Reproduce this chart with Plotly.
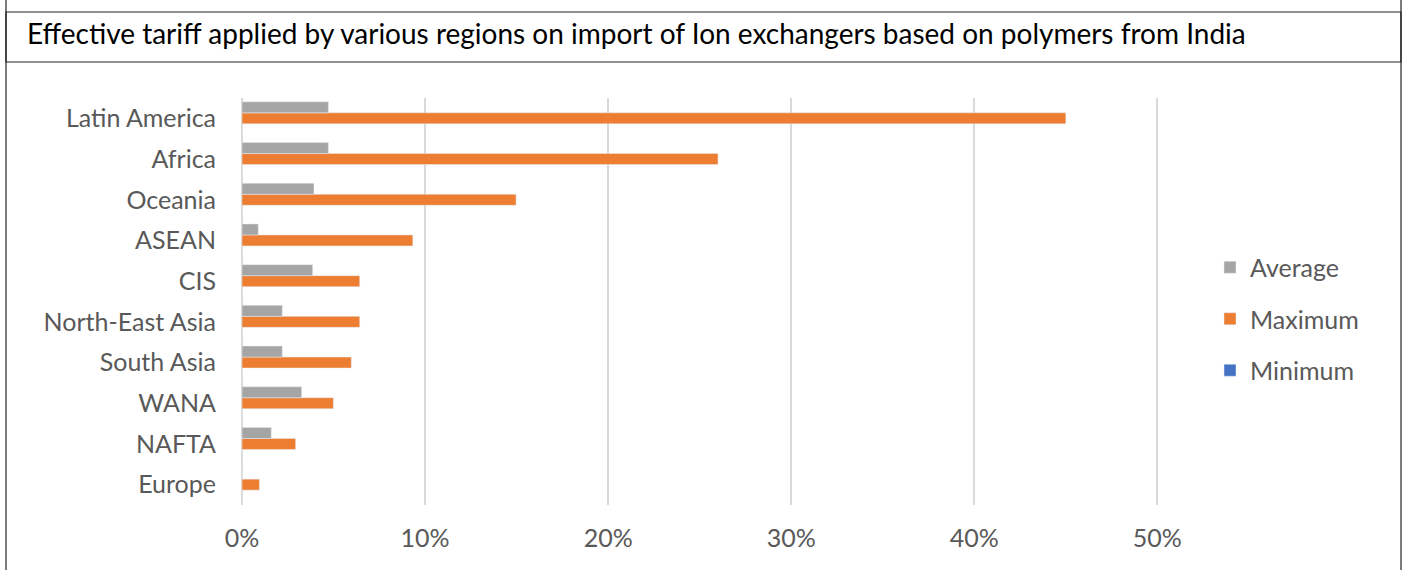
import plotly.graph_objects as go

categories = ["Europe", "NAFTA", "WANA", "South Asia", "North-East Asia",
              "CIS", "ASEAN", "Oceania", "Africa", "Latin America"]
average = [0.0, 0.016, 0.0326, 0.022, 0.022, 0.0386, 0.0089, 0.0393, 0.0472, 0.0472]
maximum = [0.0095, 0.0293, 0.0499, 0.0597, 0.0643, 0.0643, 0.0933, 0.1497, 0.26, 0.45]
minimum = [0, 0, 0, 0, 0, 0, 0, 0, 0, 0]
x_ticks = [0, 0.1, 0.2, 0.3, 0.4, 0.5]
x_tick_labels = ["0%", "10%", "20%", "30%", "40%", "50%"]
title_text = "Effective tariff applied by various regions on import of Ion exchangers based on polymers from India"

FONT = "Lato"
W, H = 1407, 570
L, R, T, B = 242, 1194, 98, 505
PW, PH = R - L, B - T


def px(x):
    return (x - L) / PW


def py(y):
    return (B - y) / PH


fig = go.Figure()
fig.add_trace(go.Bar(y=categories, x=minimum, name="Minimum", orientation="h",
                     marker_color="#4472C4", legendgroup="c", legendrank=3))
fig.add_trace(go.Bar(y=categories, x=maximum, name="Maximum", orientation="h",
                     marker_color="#ED7D31", legendgroup="b", legendrank=2))
fig.add_trace(go.Bar(y=categories, x=average, name="Average", orientation="h",
                     marker_color="#A5A5A5", legendgroup="a", legendrank=1))

shapes = [
    dict(type="rect", xref="paper", yref="paper", x0=px(6), x1=px(1401), y0=py(62), y1=py(12),
         line=dict(color="#222222", width=1.2)),
    dict(type="line", xref="paper", yref="paper", x0=px(6), x1=px(6), y0=py(0), y1=py(570),
         line=dict(color="#222222", width=1.2)),
    dict(type="line", xref="paper", yref="paper", x0=px(1401), x1=px(1401), y0=py(0), y1=py(570),
         line=dict(color="#222222", width=1.2)),
]

fig.update_layout(
    width=W, height=H,
    margin=dict(l=L, r=W - R, t=T, b=H - B),
    paper_bgcolor="white", plot_bgcolor="white",
    barmode="group", bargap=0.19, bargroupgap=0,
    font=dict(family=FONT, color="#595959", size=25),
    shapes=shapes,
    annotations=[dict(text=title_text, xref="paper", yref="paper", x=px(25), y=py(33),
                      xanchor="left", yanchor="middle", showarrow=False,
                      font=dict(family=FONT, size=28, color="#000000"))],
    legend=dict(x=px(1210), y=py(319), xanchor="left", yanchor="middle",
                traceorder="grouped", tracegroupgap=16,
                font=dict(family=FONT, size=25, color="#595959"),
                bgcolor="rgba(0,0,0,0)"),
    xaxis=dict(range=[0, 0.52], tickvals=x_ticks, ticktext=x_tick_labels,
               showgrid=True, gridcolor="#D9D9D9", gridwidth=2,
               zeroline=True, zerolinecolor="#D9D9D9", zerolinewidth=2,
               showline=False, ticks="", ticklabelstandoff=16, fixedrange=True),
    yaxis=dict(categoryorder="array", categoryarray=categories, showgrid=False,
               zeroline=False, showline=False, ticks="", ticklabelstandoff=25,
               fixedrange=True),
)

fig.write_html("out.html", config={"displayModeBar": False},
               post_script="document.body.style.margin='0';document.body.style.overflow='hidden';")
